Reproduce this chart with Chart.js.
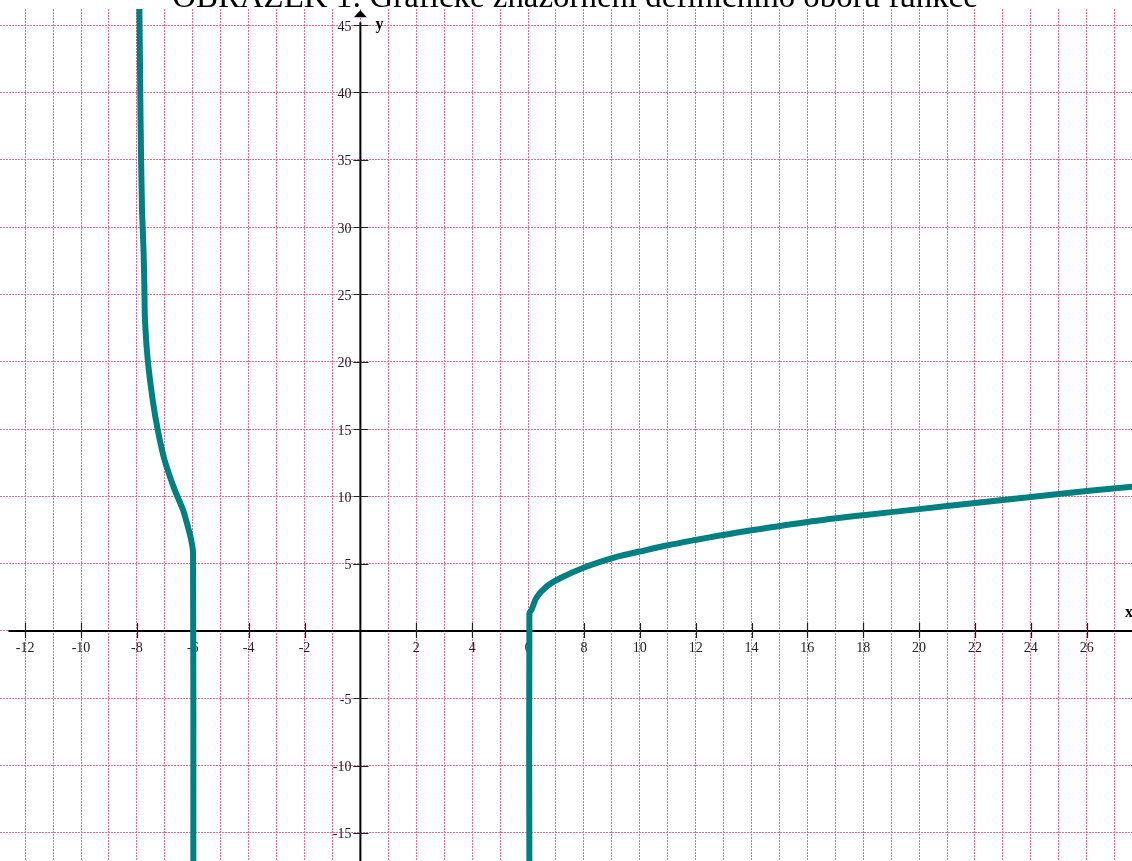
<!DOCTYPE html>
<html>
<head>
<meta charset="utf-8">
<script src="https://cdn.jsdelivr.net/npm/chart.js@4.4.1/dist/chart.umd.min.js"></script>
<style>
    html, body { margin: 0; padding: 0; background: #fff; overflow: hidden; }
    #wrap { width: 1132px; height: 861px; position: relative; }
</style>
</head>
<body>
<div id="wrap"><canvas id="graf" width="1132" height="861"></canvas></div>
<script>
const titleText = "OBRÁZEK 1: Grafické znázornění definičního oboru funkce"

// left branch (top to bottom)
const leftX = [-7.93, -7.91, -7.87, -7.82, -7.76, -7.73, -7.71, -7.61, -7.43, -7.25, -7.01, -6.65, -6.35, -6.17, -6.06, -5.99, -5.98]
const leftY = [47.5, 46.2, 38.2, 31.6, 28.1, 25.3, 23.1, 20.1, 17.1, 14.9, 12.7, 10.5, 9.0, 7.7, 6.8, 5.8, -18]

// right branch (bottom to top, then to the right)
const rightX = [6.05, 6.05, 6.13, 6.31, 6.66, 7.13, 7.99, 9.17, 10.0, 10.96, 12.04, 12.76, 14, 16, 18, 20, 22, 24, 26, 27.7]
const rightY = [-18, 1.3, 1.6, 2.5, 3.3, 3.9, 4.7, 5.5, 5.9, 6.35, 6.78, 7.05, 7.48, 8.1, 8.6, 9.05, 9.5, 9.95, 10.4, 10.72]

const xTickLabels = [-12, -10, -8, -6, -4, -2, 2, 4, 6, 8, 10, 12, 14, 16, 18, 20, 22, 24, 26]
const yTickLabels = [-15, -10, -5, 5, 10, 15, 20, 25, 30, 35, 40, 45]

const xGrid = []
for (let v = -12; v <= 27; v++) xGrid.push(v)
const yGrid = []
for (let v = -15; v <= 45; v += 5) yGrid.push(v)

const toPoints = (xs, ys) => xs.map((x, i) => ({ x, y: ys[i] }))

const serif = "'Liberation Serif', 'DejaVu Serif', serif"

const axesPlugin = {
    id: "osy",
    beforeDatasetsDraw(chart) {
        const { ctx, scales: { x, y } } = chart
        const x0 = x.getPixelForValue(0)
        const y0 = y.getPixelForValue(0)
        ctx.save()
        ctx.strokeStyle = "#000"
        ctx.lineWidth = 2
        ctx.beginPath()
        ctx.moveTo(x.getPixelForValue(-12.6), y0)
        ctx.lineTo(chart.width, y0)
        ctx.moveTo(x0, chart.height)
        ctx.lineTo(x0, y.getPixelForValue(45.2))
        ctx.stroke()

        // arrow on y axis
        const tip = y.getPixelForValue(46.1)
        ctx.fillStyle = "#000"
        ctx.beginPath()
        ctx.moveTo(x0, tip)
        ctx.lineTo(x0 - 6.5, tip + 7)
        ctx.lineTo(x0 + 6.5, tip + 7)
        ctx.closePath()
        ctx.fill()

        // tick marks
        ctx.strokeStyle = "#222"
        ctx.lineWidth = 1.2
        ctx.beginPath()
        xTickLabels.forEach(v => {
            const px = Math.round(x.getPixelForValue(v)) + 0.5
            ctx.moveTo(px, y0 - 8)
            ctx.lineTo(px, y0 + 7)
        })
        yTickLabels.forEach(v => {
            const py = Math.round(y.getPixelForValue(v)) + 0.5
            ctx.moveTo(x0 - 7, py)
            ctx.lineTo(x0 + 8, py)
        })
        ctx.stroke()

        // tick labels
        ctx.fillStyle = "#222"
        ctx.font = "14px " + serif
        ctx.textAlign = "center"
        ctx.textBaseline = "alphabetic"
        xTickLabels.forEach(v => {
            ctx.fillText(String(v), x.getPixelForValue(v), y0 + 21)
        })
        ctx.textAlign = "right"
        yTickLabels.forEach(v => {
            ctx.fillText(String(v), x0 - 9, y.getPixelForValue(v) + 5.5)
        })

        // axis names
        ctx.fillStyle = "#000"
        ctx.font = "bold 16px " + serif
        ctx.textAlign = "left"
        ctx.fillText("y", x0 + 15, y.getPixelForValue(45) + 4)
        ctx.fillText("x", chart.width - 7, y0 - 14)
        ctx.restore()
    },
    afterDraw(chart) {
        const { ctx } = chart
        ctx.save()
        ctx.fillStyle = "#000"
        let size = 30
        ctx.font = size + "px " + serif
        const w = ctx.measureText(titleText).width
        size = size * 805 / w
        ctx.font = size.toFixed(1) + "px " + serif
        ctx.textAlign = "center"
        ctx.textBaseline = "alphabetic"
        ctx.fillText(titleText, 575, 7)
        ctx.restore()
    }
}

const gridOpts = {
    color: "rgb(226, 112, 152)",
    lineWidth: 1,
    drawTicks: false
}

const branch = (label, xs, ys) => ({
    label,
    data: toPoints(xs, ys),
    showLine: true,
    borderColor: "#008080",
    borderWidth: 6,
    pointRadius: 0,
    tension: 0.3,
    borderJoinStyle: "round"
})

new Chart(document.getElementById("graf"), {
    type: "scatter",
    data: {
        datasets: [
            branch("levá větev", leftX, leftY),
            branch("pravá větev", rightX, rightY)
        ]
    },
    options: {
        responsive: false,
        animation: false,
        layout: { padding: { top: 9, left: 0, right: 0, bottom: 0 } },
        plugins: { legend: { display: false }, tooltip: { enabled: false }, title: { display: false } },
        scales: {
            x: {
                type: "linear",
                min: -12.9,
                max: 27.62,
                ticks: { display: false },
                grid: gridOpts,
                border: { display: false, dash: [2, 1] },
                afterBuildTicks: scale => { scale.ticks = xGrid.map(v => ({ value: v })) }
            },
            y: {
                type: "linear",
                min: -17.08,
                max: 46.19,
                ticks: { display: false },
                grid: gridOpts,
                border: { display: false, dash: [2, 1] },
                afterBuildTicks: scale => { scale.ticks = yGrid.map(v => ({ value: v })) }
            }
        }
    },
    plugins: [axesPlugin]
})
</script>
</body>
</html>
